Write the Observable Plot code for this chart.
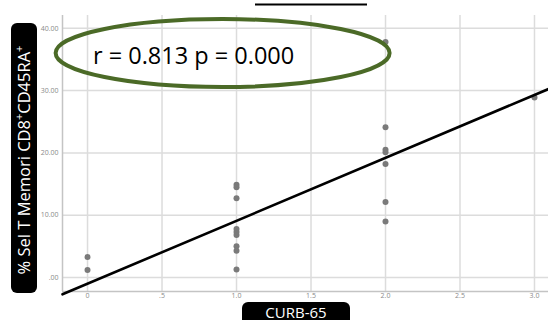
<!DOCTYPE html>
<html>
<head>
<meta charset="utf-8">
<script src="https://cdn.jsdelivr.net/npm/d3@7"></script>
<script src="https://cdn.jsdelivr.net/npm/@observablehq/plot@0.6"></script>
<style>
  html, body { margin: 0; padding: 0; background: #fff; }
  #chart svg { display: block; }
</style>
</head>
<body>
<div id="chart"></div>
<script>
// CURB-65 score of each patient and the matching % of CD8+CD45RA+ memory T cells
const curb65 = [0, 0,
                1, 1, 1, 1, 1, 1, 1, 1, 1,
                2, 2, 2, 2, 2, 2, 2,
                3];
const selT   = [3.3, 1.2,
                14.9, 14.5, 12.7, 7.8, 7.3, 6.8, 5.0, 4.3, 1.3,
                37.8, 24.1, 20.5, 20.1, 18.2, 12.1, 9.0,
                28.9];

// Axis ticks and their printed labels
const xTicks = [0, 0.5, 1, 1.5, 2, 2.5, 3];
const xTickLabels = ["0", ".5", "1.0", "1.5", "2.0", "2.5", "3.0"];
const yTicks = [0, 10, 20, 30, 40];
const yTickLabels = [".00", "10.00", "20.00", "30.00", "40.00"];

// Fitted line: y = intercept + slope * x
const fitIntercept = -1.0;
const fitSlope = 10.1;
const correlationText = "r = 0.813 p = 0.000";

const xDomain = [-0.168, 3.094];
const yDomain = [-2.25, 42.05];

const points = curb65.map((c, i) => ({curb: c, pct: selT[i]}));
const fitLine = xDomain.map(x => ({curb: x, pct: fitIntercept + fitSlope * x}));

const gridColor = "#dcdcdc";
const axisColor = "#c4c4c4";
const tickColor = "#8a8a8a";

const chart = Plot.plot({
  width: 548,
  height: 320,
  marginLeft: 62,
  marginRight: 0,
  marginTop: 15,
  marginBottom: 29,
  style: {background: "#fff", fontFamily: "'Open Sans', sans-serif"},
  x: {domain: xDomain},
  y: {domain: yDomain},
  marks: [
    Plot.gridX(xTicks, {stroke: gridColor, strokeOpacity: 1, strokeWidth: 1.5}),
    Plot.gridY(yTicks, {stroke: gridColor, strokeOpacity: 1, strokeWidth: 1.5}),
    Plot.ruleX([xDomain[0]], {stroke: axisColor, strokeWidth: 1.5}),
    Plot.ruleY([yDomain[0]], {stroke: axisColor, strokeWidth: 1.5}),
    Plot.axisX(xTicks, {
      tickSize: 0, tickPadding: 2, fontSize: 7, fill: tickColor,
      tickFormat: (d, i) => xTickLabels[i], label: null
    }),
    Plot.axisY(yTicks, {
      tickSize: 0, tickPadding: 4, fontSize: 7, fill: tickColor,
      tickFormat: (d, i) => yTickLabels[i], label: null
    }),
    Plot.dot(points, {x: "curb", y: "pct", r: 3, fill: "#7a7a7a", stroke: "none"}),
    Plot.line(fitLine, {x: "curb", y: "pct", stroke: "#000", strokeWidth: 2.6})
  ]
});

document.getElementById("chart").append(chart);

const svg = d3.select(chart);
const sx = chart.scale("x");
const sy = chart.scale("y");

// Correlation callout circled in green
const calloutX = sx.apply(0.91);
const calloutY = sy.apply(35.95);
svg.append("ellipse")
  .attr("cx", calloutX).attr("cy", calloutY)
  .attr("rx", 167).attr("ry", 34)
  .attr("fill", "none")
  .attr("stroke", "#4b6a27")
  .attr("stroke-width", 4);
svg.append("text")
  .attr("x", calloutX - 29).attr("y", calloutY + 11)
  .attr("text-anchor", "middle")
  .attr("font-family", "'Open Sans', sans-serif")
  .attr("font-size", 23.5)
  .attr("fill", "#000")
  .text(correlationText);

// Black label boxes for the two axis titles
const yBox = svg.append("g");
yBox.append("rect")
  .attr("x", 11).attr("y", 23).attr("width", 26).attr("height", 270)
  .attr("rx", 6).attr("fill", "#000");
const yLabel = yBox.append("text")
  .attr("transform", "translate(30,160) rotate(-90)")
  .attr("text-anchor", "middle")
  .attr("font-family", "'Open Sans', sans-serif")
  .attr("font-size", 16.5)
  .attr("fill", "#fff");
yLabel.append("tspan").text("% Sel T Memori CD8");
yLabel.append("tspan").attr("font-size", 11).attr("dy", -7).text("+");
yLabel.append("tspan").attr("dy", 7).text("CD45RA");
yLabel.append("tspan").attr("font-size", 11).attr("dy", -7).text("+");

svg.append("rect")
  .attr("x", 242).attr("y", 302).attr("width", 108).attr("height", 30)
  .attr("rx", 6).attr("fill", "#000");
svg.append("text")
  .attr("x", 296).attr("y", 317.5)
  .attr("text-anchor", "middle")
  .attr("font-family", "'Open Sans', sans-serif")
  .attr("font-size", 15)
  .attr("fill", "#fff")
  .text("CURB-65");

// Underline of the heading box at the top edge
svg.append("line")
  .attr("x1", 255).attr("x2", 367)
  .attr("y1", 4.5).attr("y2", 4.5)
  .attr("stroke", "#000").attr("stroke-width", 2);
</script>
</body>
</html>
